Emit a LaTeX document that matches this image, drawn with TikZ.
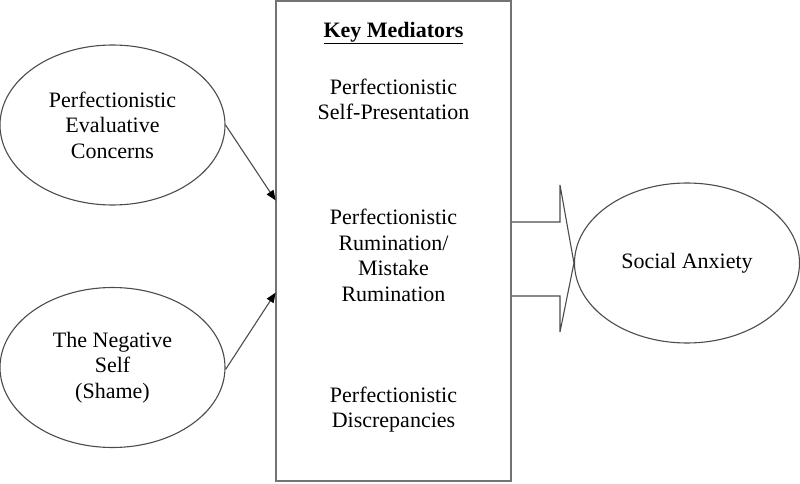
\documentclass[tikz,border=0pt]{standalone}
\usepackage{fontspec}
\setmainfont{Liberation Serif}
\usetikzlibrary{shapes.geometric,arrows.meta}
\tikzset{
  ln/.style={draw=black!70, line width=1.1pt},
  oval/.style={ln, ellipse, minimum width=225pt, minimum height=160pt, inner sep=0pt, align=center, font=\fontsize{22}{25.5}\selectfont},
  txt/.style={align=center, inner sep=0pt, font=\fontsize{22}{25.5}\selectfont},
  arr/.style={ln, -{Triangle[length=10pt,width=8pt,color=black]}, shorten >=-0.5pt}
}
\begin{document}
\begin{tikzpicture}[x=1pt,y=-1pt]
\useasboundingbox (0,0) rectangle (800,484);
% central box
\node[draw=black!55, line width=1.3pt, minimum width=235pt, minimum height=480pt, inner sep=0pt] (box) at (393.5,241) {};
\node[txt] (km) at (393.5,33) {\underline{\textbf{Key Mediators}}};
\node[txt] (m1) at (393.5,99.5) {Perfectionistic\\Self-Presentation};
\node[txt] (m2) at (393.5,255.5) {Perfectionistic\\Rumination/\\Mistake\\Rumination};
\node[txt] (m3) at (393.5,409.5) {Perfectionistic\\Discrepancies};
% ovals
\node[oval] (pec) at (112.5,125) {Perfectionistic\\Evaluative\\Concerns};
\node[oval] (neg) at (112.5,367.5) {The Negative\\Self\\(Shame)};
\node[oval] (sa) at (687,263) {Social Anxiety};
% arrows
\coordinate (t1) at (box.west |- 0,200);
\coordinate (t2) at (box.west |- 0,293);
\draw[arr] (pec.east) -- (t1);
\draw[arr] (neg.east) ++(0,2) -- (t2);
% block arrow
\draw[ln, line join=miter] (box.east |- 0,222) -- (560,222) -- (560,185) -- (sa.west) -- (560,332) -- (560,296) -- (box.east |- 0,296);
\end{tikzpicture}
\end{document}
